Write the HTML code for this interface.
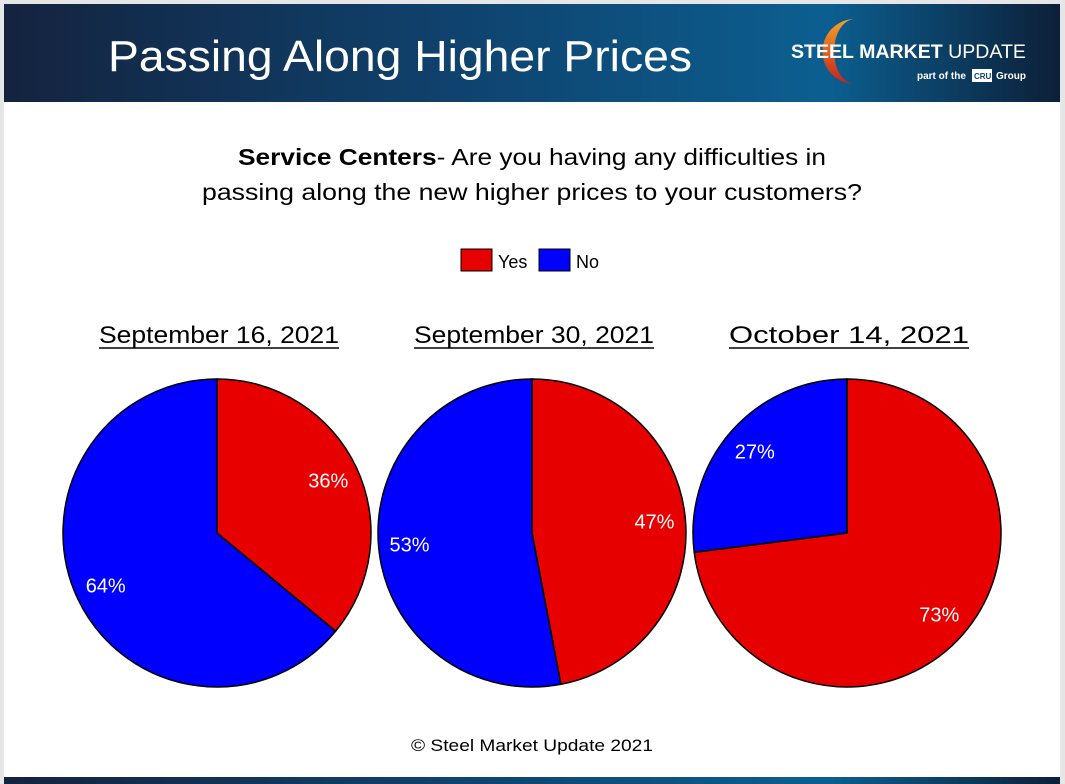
<!DOCTYPE html>
<html><head><meta charset="utf-8"><style>
html,body{margin:0;padding:0;background:#fff;}
svg{display:block;font-family:"Liberation Sans",sans-serif;}
</style></head><body>
<svg width="1065" height="784" viewBox="0 0 1065 784">
<defs>
<linearGradient id="hdr" x1="0" x2="1" y1="0" y2="0">
<stop offset="0" stop-color="#14233f"/><stop offset="0.45" stop-color="#0f4470"/><stop offset="0.78" stop-color="#0b5f90"/><stop offset="1" stop-color="#0d1f38"/>
</linearGradient>
<linearGradient id="arc" x1="0" x2="0" y1="0" y2="1"><stop offset="0" stop-color="#f5a32a"/><stop offset="1" stop-color="#c42020"/></linearGradient>
</defs>
<rect x="0" y="0" width="1065" height="784" fill="#e6e6e6"/>
<rect x="4" y="4" width="1056" height="780" fill="#fff"/>
<rect x="4" y="4" width="1056" height="98" fill="url(#hdr)"/>
<text x="108" y="71" font-size="44" fill="#fff" textLength="584" lengthAdjust="spacingAndGlyphs">Passing Along Higher Prices</text>
<g>
<path d="M855,19 A32,32 0 1 0 855,84 A20,31 0 1 1 855,19 Z" fill="url(#arc)"/>
<text x="791" y="58" font-size="19" font-weight="bold" fill="#fff" textLength="235" lengthAdjust="spacingAndGlyphs">STEEL MARKET <tspan font-weight="normal">UPDATE</tspan></text>
<text x="917" y="79" font-size="10" font-weight="bold" fill="#fff">part of the</text>
<rect x="972" y="69" width="20" height="13" fill="#fff"/>
<text x="974" y="79" font-size="8" font-weight="bold" fill="#0f4470">CRU</text>
<text x="996" y="79" font-size="10" font-weight="bold" fill="#fff">Group</text>
</g>
<text x="532" y="165" font-size="23" text-anchor="middle" fill="#000" textLength="588" lengthAdjust="spacingAndGlyphs"><tspan font-weight="bold">Service Centers</tspan>- Are you having any difficulties in</text>
<text x="532" y="200" font-size="23" text-anchor="middle" fill="#000" textLength="660" lengthAdjust="spacingAndGlyphs">passing along the new higher prices to your customers?</text>
<g>
<rect x="461" y="249" width="31" height="22" fill="#e60000" stroke="#000" stroke-width="1"/>
<text x="498" y="268" font-size="18">Yes</text>
<rect x="539" y="249" width="31" height="22" fill="#0000ff" stroke="#000" stroke-width="1"/>
<text x="576" y="268" font-size="18">No</text>
</g>
<g id="pies"></g>
<text x="532" y="751" font-size="17" text-anchor="middle" textLength="242" lengthAdjust="spacingAndGlyphs">© Steel Market Update 2021</text>
<rect x="4" y="777" width="1056" height="7" fill="url(#hdr)"/>
</svg>
<script>
const dates = ["September 16, 2021","September 30, 2021","October 14, 2021"];
const yesValues = [36,47,73];
const noValues = [64,53,27];
const NS="http://www.w3.org/2000/svg";
const g=document.getElementById('pies');
const cxs=[217,532,847], cy=533, R=154, LR=123;
function pt(cx,a,r){return [cx+r*Math.sin(a), cy-r*Math.cos(a)];}
function slice(cx,a0,a1,fill,name){
  const p=document.createElementNS(NS,'path');
  const [x0,y0]=pt(cx,a0,R),[x1,y1]=pt(cx,a1,R);
  const large=(a1-a0)>Math.PI?1:0;
  p.setAttribute('d',`M${cx},${cy} L${x0},${y0} A${R},${R} 0 ${large} 1 ${x1},${y1} Z`);
  p.setAttribute('fill',fill);p.setAttribute('stroke','#000');p.setAttribute('stroke-width','1.5');
  
  
  g.appendChild(p);
}
function label(cx,a,txt,name){
  const [x,y]=pt(cx,a,LR);
  const t=document.createElementNS(NS,'text');
  t.setAttribute('x',x);t.setAttribute('y',y+7);t.setAttribute('text-anchor','middle');
  t.setAttribute('font-size','20');t.setAttribute('fill','#fff');t.textContent=txt;
  
  
  g.appendChild(t);
}
dates.forEach((d,i)=>{
  const cx=cxs[i], tot=yesValues[i]+noValues[i];
  const ay=yesValues[i]/tot*2*Math.PI;
  slice(cx,0,ay,'#e60000','slice-yes-'+(i+1));
  slice(cx,ay,2*Math.PI,'#0000ff','slice-no-'+(i+1));
  label(cx,ay/2,yesValues[i]+'%','label-yes-'+(i+1));
  label(cx,(ay+2*Math.PI)/2,noValues[i]+'%','label-no-'+(i+1));
  const t=document.createElementNS(NS,'text');
  t.setAttribute('x',cx+2);t.setAttribute('y',343);t.setAttribute('text-anchor','middle');
  t.setAttribute('font-size','24');
  t.setAttribute('textLength','240');t.setAttribute('lengthAdjust','spacingAndGlyphs');
  t.textContent=d;
  
  
  g.appendChild(t);
  const u=document.createElementNS(NS,'line');
  u.setAttribute('x1',cx+2-120);u.setAttribute('x2',cx+2+120);u.setAttribute('y1',348);u.setAttribute('y2',348);
  u.setAttribute('stroke','#000');u.setAttribute('stroke-width','1.5');
  
  
  g.appendChild(u);
});
</script>
</body></html>
